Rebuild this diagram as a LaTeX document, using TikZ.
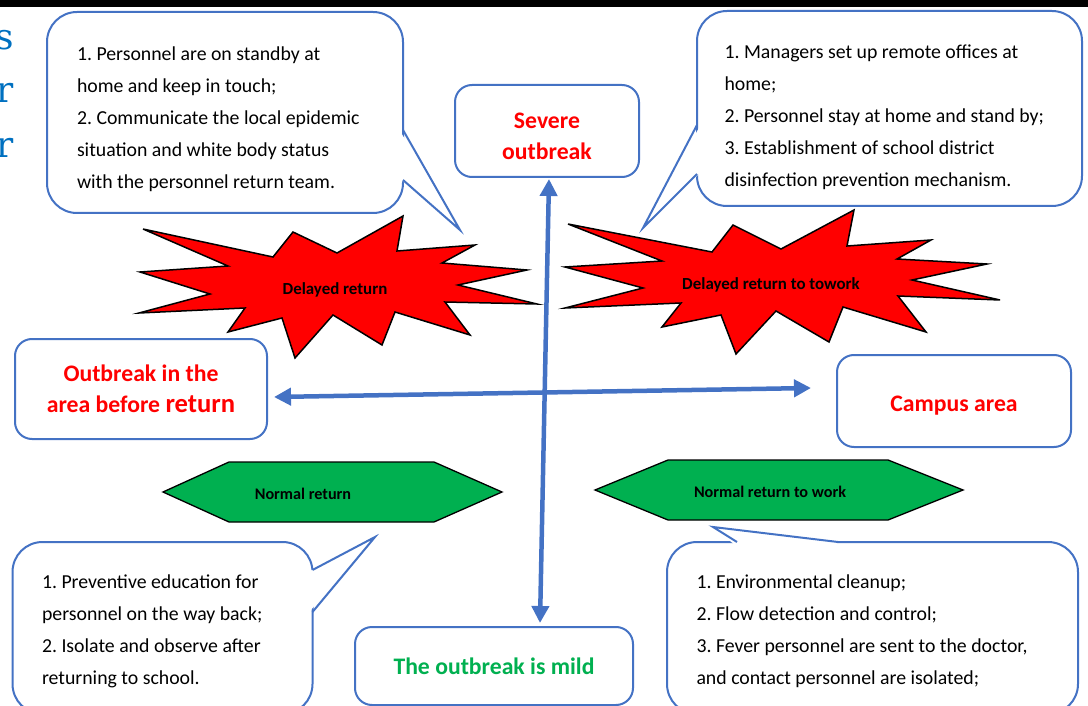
\documentclass[tikz,border=0pt]{standalone}
\usepackage{fontspec}
\setmainfont{Carlito}
\newfontfamily\cutfont{DejaVu Serif}
\usepackage{xcolor}
\usepackage{tikz}
\usetikzlibrary{arrows.meta, positioning}
\frenchspacing

\definecolor{callblue}{HTML}{4472C4}
\definecolor{cutblue}{HTML}{0070C0}
\definecolor{mildgreen}{HTML}{00B050}

\tikzset{
    callout/.style={draw=callblue, line width=2pt, rounded corners=30pt, fill=white,
        align=left, inner sep=0pt, font=\fontsize{19.8}{32}\selectfont,
        execute at begin node={\spaceskip=0pt\relax}},
    tail/.style={draw=callblue, line width=2pt, line join=miter},
    level/.style={draw=callblue, line width=2pt, rounded corners=17pt, fill=white,
        align=center, inner sep=0pt, text=red, font=\fontsize{23.7}{31}\selectfont\bfseries},
    burst/.style={draw=black, line width=1.5pt, fill=red, line join=miter},
    hexa/.style={draw=black, line width=1.3pt, fill=mildgreen},
    bursttag/.style={inner sep=0pt, font=\fontsize{16.9}{20}\selectfont\bfseries},
    hextag/.style={inner sep=0pt, font=\fontsize{16.2}{20}\selectfont\bfseries},
    axis/.style={draw=callblue, line width=4.5pt, <->},
    cut/.style={anchor=base east, inner sep=0pt, text=cutblue, font=\cutfont\fontsize{36}{36}\selectfont}
}

\begin{document}
\begin{tikzpicture}[x=1pt, y=-1pt, >={Triangle[length=17pt,width=17pt]}]
    \useasboundingbox (0,0) rectangle (1088,706);

    % 1. Page edge and cut letters
    \fill[black] (0,0) rectangle (1088,7);
    \node[cut] (cuts) at (14,50) {s};
    \node[cut] (cutr) at (14,103) {r};
    \node[cut] (cutrr) at (14,158) {r};

    % 2. Callouts on top
    \node[callout, minimum width=356pt, minimum height=201pt, text width=296pt, text height=27pt] (homeback) at (225,112.5)
        {1. Personnel are on standby at\\ home and keep in touch;\\ 2. Communicate the local epidemic\\ situation and white body status\\ with the personnel return team.};
    \fill[white] (400,131) -- (460,230) -- (400,179) -- cycle;
    \draw[tail] (403,130) -- (460,230) -- (403,180);

    \node[callout, minimum width=385pt, minimum height=195pt, text width=330pt, text height=31pt] (homework) at (889.5,108.5)
        {1. Managers set up remote offices at\\ home;\\ 2. Personnel stay at home and stand by;\\ 3. Establishment of school district\\ disinfection prevention mechanism.};
    \fill[white] (700,126) -- (643,228) -- (700,173) -- cycle;
    \draw[tail] (697,125) -- (643,228) -- (697,174);

    % 3. Level boxes
    \node[level, minimum width=184pt, minimum height=92pt, text height=57pt] (severe) at (547,131) {Severe\\outbreak};
    \node[level, minimum width=252pt, minimum height=100pt] (before) at (141,389)
        {Outbreak in the\\area before {\fontsize{26.6}{31}\selectfont return}};
    \node[level, minimum width=234pt, minimum height=92pt, text height=20pt, text depth=0pt] (campus) at (954,401) {Campus area};
    \node[level, text=mildgreen, minimum width=278pt, minimum height=78pt] (mild) at (494,666) {The outbreak is mild};

    % 4. Bursts for severe outbreak
    \draw[burst] (143,229) -- (273,257) -- (293,232) -- (337,253) -- (403,216) -- (397,251)
        -- (475,245) -- (442,263) -- (527,270) -- (458,285) -- (537,304) -- (445,302)
        -- (470,335) -- (395,312) -- (382,345) -- (333,315) -- (295,358) -- (282,318)
        -- (228,332) -- (245,308) -- (139,313) -- (210,294) -- (140,272) -- (228,266) -- cycle;
    \node[bursttag] (delayback) at (335,290) {Delayed return};

    \draw[burst] (568,224) -- (712,252) -- (733,225) -- (781,249) -- (854,210) -- (847,246)
        -- (931,240) -- (897,259) -- (987,264) -- (912,280) -- (1000,300) -- (898,296)
        -- (926,332) -- (843,307) -- (829,342) -- (776,311) -- (736,354) -- (721,315)
        -- (662,327) -- (681,303) -- (565,308) -- (643,288) -- (565,267) -- (662,261) -- cycle;
    \node[bursttag] (delaywork) at (771,285) {Delayed return to towork};

    % 5. Hexagons for mild outbreak
    \draw[hexa] (163,492) -- (229,462) -- (434,462) -- (502,492) -- (434,522) -- (229,522) -- cycle;
    \node[hextag] (normback) at (303,494) {Normal return};

    \draw[hexa] (595,490) -- (668,460) -- (888,460) -- (963,490) -- (888,520) -- (668,520) -- cycle;
    \node[hextag] (normwork) at (770,492) {Normal return to work};

    % 6. Callouts at the bottom
    \node[callout, minimum width=300pt, minimum height=172pt, text width=241pt, text height=20pt] (wayback) at (162.5,628)
        {1. Preventive education for\\ personnel on the way back;\\ 2. Isolate and observe after\\ returning to school.};
    \fill[white] (310,571) -- (375,537) -- (310,611) -- cycle;
    \draw[tail] (312.5,570) -- (375,537) -- (312.5,612);

    \node[callout, minimum width=411pt, minimum height=172pt, text width=352pt, text height=20pt] (oncampus) at (872.5,628)
        {1. Environmental cleanup;\\ 2. Flow detection and control;\\ 3. Fever personnel are sent to the doctor,\\ and contact personnel are isolated;};
    \fill[white] (735,545) -- (713,527) -- (837,541.5) -- (837,545) -- cycle;
    \draw[tail] (737,542) -- (713,527) -- (838,542);

    % 7. Axes
    \draw[axis] ([xshift=6pt,yshift=-8pt]before.east) -- ([xshift=-25pt,yshift=13pt]campus.west);
    \draw[axis] ([xshift=2pt,yshift=-1pt]severe.south) -- ([xshift=46pt,yshift=3pt]mild.north);

\end{tikzpicture}
\end{document}
